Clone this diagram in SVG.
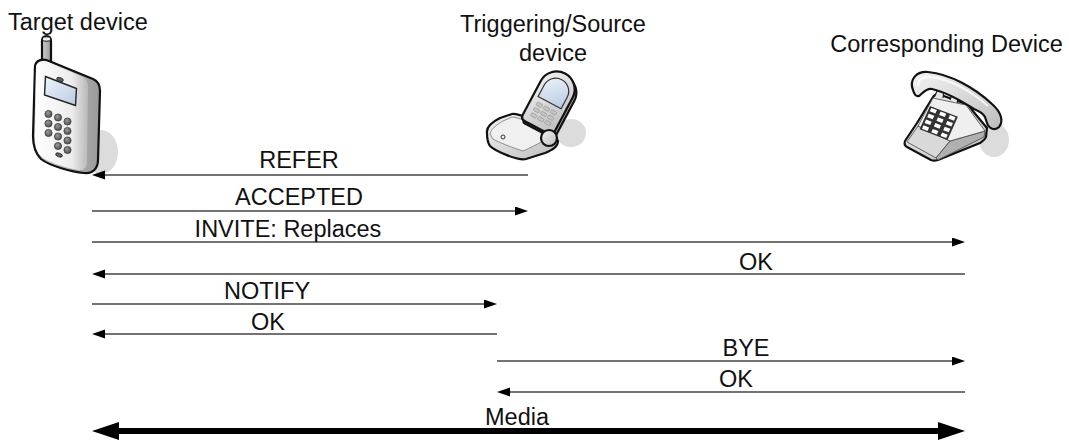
<svg xmlns="http://www.w3.org/2000/svg" width="1069" height="442" viewBox="0 0 1069 442">
<style>
.lbl{font-family:"Liberation Sans",Arial,sans-serif;font-size:23.5px;fill:#111}
.msg{stroke:#444;stroke-width:1.5;fill:none;marker-end:url(#ah)}
.ol{stroke:#111;stroke-width:2.2;stroke-linejoin:round}
.shadow{fill:#dcdcdc}
</style>
<defs>
<marker id="ah" markerUnits="userSpaceOnUse" markerWidth="14" markerHeight="10" refX="9" refY="4.5" orient="auto">
<path d="M0,0 L13,4.5 L0,9 Z" fill="#000"/>
</marker>
<marker id="mh" markerUnits="userSpaceOnUse" markerWidth="28" markerHeight="19" refX="7" refY="9" orient="auto-start-reverse">
<path d="M0,0 L27,9 L0,18 Z" fill="#000"/>
</marker>
<linearGradient id="body" x1="0" y1="0" x2="1" y2="0">
<stop offset="0" stop-color="#ffffff"/>
<stop offset="0.7" stop-color="#ececec"/>
<stop offset="1" stop-color="#b8b8b8"/>
</linearGradient>
<linearGradient id="side" x1="0" y1="0" x2="1" y2="0">
<stop offset="0" stop-color="#d0d0d0"/>
<stop offset="1" stop-color="#9a9a9a"/>
</linearGradient>
<linearGradient id="scr" x1="0" y1="0" x2="1" y2="1">
<stop offset="0" stop-color="#eef4fb"/>
<stop offset="1" stop-color="#b9cbe2"/>
</linearGradient>
<radialGradient id="btn" cx="0.4" cy="0.35" r="0.7">
<stop offset="0" stop-color="#9a9a9a"/>
<stop offset="1" stop-color="#4a4a4a"/>
</radialGradient>
<linearGradient id="gray" x1="0" y1="0" x2="1" y2="1">
<stop offset="0" stop-color="#f4f4f4"/>
<stop offset="1" stop-color="#bdbdbd"/>
</linearGradient>
</defs>

<g id="target-device">
<text class="lbl" x="8" y="30">Target device</text>
<ellipse class="shadow" cx="101" cy="152" rx="17" ry="22"/>
<path class="ol" d="M42,66 L42,41 Q42,36 46.5,36 Q51,36 51,41 L51,70 Z" fill="url(#side)"/>
<ellipse cx="46.5" cy="39" rx="4.2" ry="2.2" fill="#eee" stroke="#111" stroke-width="1"/>
<path class="ol" d="M35,66 C36,60 43,58 49,61 L93,79 C98,81 100,85 100,91 L98,160 C98,169 92,174 84,173 C72,172 50,166 41,159 C36,154 33,146 33,136 Z" fill="url(#side)"/>
<path d="M36,67 C37,62 43,60 48,62 L83,77 C87,79 88,83 88,88 L87,162 C87,168 83,171 78,170 C67,168 50,163 42,157 C37,153 35,146 35,136 Z" fill="url(#body)"/>
<path d="M45.5,76.5 L76.5,88.5 L75.5,105.5 L44.5,95 Z" fill="url(#scr)" stroke="#222" stroke-width="1.4"/>
<ellipse cx="60" cy="79.5" rx="3.5" ry="1.8" fill="#666" stroke="#222" stroke-width="0.8" transform="rotate(20 60 79.5)"/>
<ellipse cx="59" cy="155" rx="3.5" ry="1.8" fill="#666" stroke="#222" stroke-width="0.8" transform="rotate(20 59 155)"/>
<g fill="url(#btn)" stroke="#333" stroke-width="0.7">
<circle cx="48.5" cy="114" r="3.6"/><circle cx="58" cy="117.5" r="3.6"/><circle cx="67.5" cy="121.5" r="3.6"/>
<circle cx="48.5" cy="123.5" r="3.6"/><circle cx="58" cy="127" r="3.6"/><circle cx="67.5" cy="131" r="3.6"/>
<circle cx="48.5" cy="133" r="3.6"/><circle cx="58" cy="136.5" r="3.6"/><circle cx="67.5" cy="140.5" r="3.6"/>
<circle cx="58" cy="146" r="3.6"/><circle cx="67.5" cy="150" r="3.6"/>
</g>
</g>

<g id="source-device">
<text class="lbl" x="553" y="32" text-anchor="middle">Triggering/Source</text>
<text class="lbl" x="553" y="61" text-anchor="middle">device</text>
<ellipse class="shadow" cx="571" cy="133" rx="15" ry="14"/>
<path class="ol" d="M487,133 C486,127 492,122 500,118 L512,114 C518,113 545,124 550,128 L558,141 C558,147 552,150 545,153 L526,159 C518,161 495,151 490,146 C487,142 487,137 487,133 Z" fill="url(#gray)"/>
<path d="M490,134 C491,129 496,125 503,121 L512,117 C518,117 540,126 545,130 L548,138 C540,143 530,148 523,151 C513,148 498,142 493,139 Z" fill="#f0f0f0" stroke="#777" stroke-width="0.8"/>
<circle cx="503" cy="137" r="2" fill="none" stroke="#333" stroke-width="1"/>
<g transform="translate(551 100) rotate(28)">
<path class="ol" d="M-15,-10 A18,18 0 0 1 21,-10 L21,28 Q21,33 16,33 L-12,33 Q-15,33 -15,28 Z" fill="#a8a8a8"/>
<path class="ol" d="M-18,-12 A18,18 0 0 1 18,-12 L18,26 Q18,31 13,31 L-13,31 Q-18,31 -18,26 Z" fill="url(#gray)"/>
<path d="M-13,-10 A13,13 0 0 1 13,-10 L13,3 L-13,3 Z" fill="url(#scr)" stroke="#333" stroke-width="1.2"/>
<g fill="#c4c4c4" stroke="#888" stroke-width="0.5">
<rect x="-11" y="8" width="6" height="3.5" rx="1"/><rect x="-3" y="8" width="6" height="3.5" rx="1"/><rect x="5" y="8" width="6" height="3.5" rx="1"/>
<rect x="-11" y="14" width="6" height="3.5" rx="1"/><rect x="-3" y="14" width="6" height="3.5" rx="1"/><rect x="5" y="14" width="6" height="3.5" rx="1"/>
<rect x="-11" y="20" width="6" height="3.5" rx="1"/><rect x="-3" y="20" width="6" height="3.5" rx="1"/><rect x="5" y="20" width="6" height="3.5" rx="1"/>
</g>
</g>
<circle class="ol" cx="549" cy="138" r="8" fill="url(#gray)"/>
</g>

<g id="corresponding-device">
<text class="lbl" x="946.5" y="52" text-anchor="middle">Corresponding Device</text>
<ellipse class="shadow" cx="994" cy="140" rx="15" ry="17"/>
<path class="ol" d="M905,141 L917,123 L933,97 C935,94 938,94 941,95 L966,104 C969,105 970,107 972,110 L987,128 L986,137 C985,140 983,141 980,143 L938,160 C935,161 933,161 931,160 L907,147 C905,146 904,144 905,141 Z" fill="url(#gray)"/>
<path d="M907,142 L918,126 L950,141 L936,158 Z" fill="#d9d9d9" stroke="#444" stroke-width="0.8"/>
<path d="M936,158 L950,141 L985,131 L984,137 L938,160 Z" fill="#b0b0b0" stroke="#444" stroke-width="0.8"/>
<path d="M918,126 L933,98 L966,105 L985,131 L950,141 Z" fill="#efefef" stroke="#444" stroke-width="0.8"/>
<path d="M935,96 L938,88 L944,90 L943,98 M950,100 L953,92 L959,95 L957,103" fill="#e6e6e6" stroke="#222" stroke-width="1.2"/>
<g transform="matrix(9.3,3.6,-2.6,5.8,930,106)">
<rect x="0" y="0" width="3" height="4" fill="#333"/>
<g fill="#fff">
<rect x="0.2" y="0.2" width="0.6" height="0.6"/><rect x="1.2" y="0.2" width="0.6" height="0.6"/><rect x="2.2" y="0.2" width="0.6" height="0.6"/>
<rect x="0.2" y="1.2" width="0.6" height="0.6"/><rect x="1.2" y="1.2" width="0.6" height="0.6"/><rect x="2.2" y="1.2" width="0.6" height="0.6"/>
<rect x="0.2" y="2.2" width="0.6" height="0.6"/><rect x="1.2" y="2.2" width="0.6" height="0.6"/><rect x="2.2" y="2.2" width="0.6" height="0.6"/>
<rect x="0.2" y="3.2" width="0.6" height="0.6"/><rect x="1.2" y="3.2" width="0.6" height="0.6"/><rect x="2.2" y="3.2" width="0.6" height="0.6"/>
</g>
</g>
<path class="ol" d="M913,90 C909,80 916,71 928,72 C950,74 975,88 992,104 C1001,112 1004,121 999,127 C995,131 989,129 987,123 L985,117 C983,113 979,111 974,109 C960,100 945,92 932,89 C926,88 923,93 919,96 C916,97 914,94 913,90 Z" fill="url(#gray)"/>
<path d="M918,86 C918,79 924,76 931,77 C952,80 972,92 988,106" fill="none" stroke="#fff" stroke-width="2" opacity="0.8"/>
</g>

<g id="connectors">
<line class="msg" x1="528" y1="175" x2="96" y2="175"/>
<line class="msg" x1="92" y1="211" x2="524" y2="211"/>
<line class="msg" x1="92" y1="242" x2="961" y2="242"/>
<line class="msg" x1="965" y1="274" x2="96" y2="274"/>
<line class="msg" x1="92" y1="304" x2="493" y2="304"/>
<line class="msg" x1="497" y1="334" x2="96" y2="334"/>
<line class="msg" x1="497" y1="361" x2="961" y2="361"/>
<line class="msg" x1="965" y1="392" x2="501" y2="392"/>
<line x1="112" y1="431" x2="945" y2="431" stroke="#000" stroke-width="6" marker-start="url(#mh)" marker-end="url(#mh)"/>
</g>

<g id="labels">
<text class="lbl" x="299" y="168" text-anchor="middle">REFER</text>
<text class="lbl" x="299" y="205" text-anchor="middle">ACCEPTED</text>
<text class="lbl" x="288" y="237" text-anchor="middle">INVITE: Replaces</text>
<text class="lbl" x="756" y="270" text-anchor="middle">OK</text>
<text class="lbl" x="267" y="299" text-anchor="middle">NOTIFY</text>
<text class="lbl" x="268" y="330" text-anchor="middle">OK</text>
<text class="lbl" x="746" y="356" text-anchor="middle">BYE</text>
<text class="lbl" x="736" y="387" text-anchor="middle">OK</text>
<text class="lbl" x="517" y="425" text-anchor="middle">Media</text>
</g>
</svg>
